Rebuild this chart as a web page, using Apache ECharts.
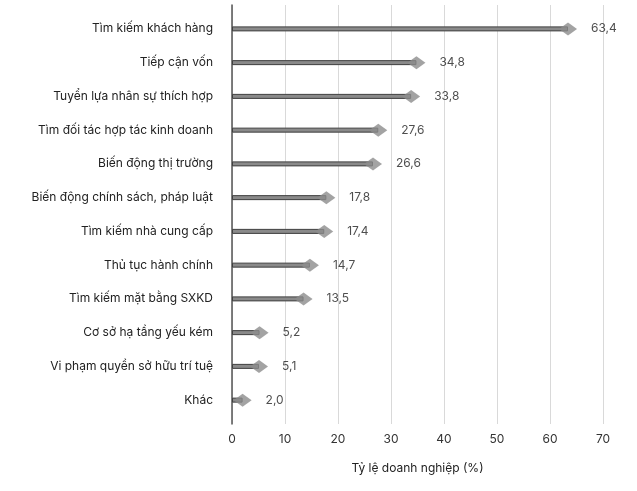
<!DOCTYPE html>
<html><head><meta charset="utf-8">
<script src="https://cdn.jsdelivr.net/npm/echarts@6/dist/echarts.min.js"></script>
<style>html,body{margin:0;padding:0;background:#fff}#c{width:637px;height:491px}</style>
</head><body><div id="c"></div>
<script>
const categories = ["Tìm kiếm khách hàng","Tiếp cận vốn","Tuyển lựa nhân sự thích hợp","Tìm đối tác hợp tác kinh doanh","Biến động thị trường","Biến động chính sách, pháp luật","Tìm kiếm nhà cung cấp","Thủ tục hành chính","Tìm kiếm mặt bằng SXKD","Cơ sở hạ tầng yếu kém","Vi phạm quyền sở hữu trí tuệ","Khác"];
const values = [63.4,34.8,33.8,27.6,26.6,17.8,17.4,14.7,13.5,5.2,5.1,2.0];
const axisName = "Tỷ lệ doanh nghiệp (%)";
const xMin = 0, xMax = 70, xInterval = 10;

const font = "Inter, Roboto, sans-serif";
const chart = echarts.init(document.getElementById('c'));
chart.setOption({
  animation:false,
  textStyle:{fontFamily:font},
  grid:[
    {left:232, right:34, top:12, bottom:74},
    {left:232, right:34, top:5, bottom:67}
  ],
  xAxis:[
    {gridIndex:0, type:'value', min:xMin, max:xMax, interval:xInterval, show:false},
    {gridIndex:1, type:'value', min:xMin, max:xMax, interval:xInterval,
     axisLine:{show:false}, axisTick:{show:false},
     splitLine:{show:true, lineStyle:{color:'#d9d9d9', width:1}},
     axisLabel:{color:'#333', fontSize:12, margin:9, fontFamily:font},
     name:axisName, nameLocation:'middle', nameGap:38,
     nameTextStyle:{color:'#222', fontSize:12, fontFamily:font}}
  ],
  yAxis:[
    {gridIndex:0, type:'category', data:categories, inverse:true,
     axisLine:{show:false}, axisTick:{show:false}, splitLine:{show:false},
     axisLabel:{color:'#222', fontSize:12, margin:19, fontFamily:font}},
    {gridIndex:1, type:'value', min:0, max:1,
     axisLine:{show:true, lineStyle:{color:'#555', width:1.5}},
     axisTick:{show:false}, axisLabel:{show:false}, splitLine:{show:false}}
  ],
  series:[
    {type:'bar', xAxisIndex:0, yAxisIndex:0, data:values, barWidth:5,
     itemStyle:{color:'#8a8a8a', borderColor:'#3f3f3f', borderWidth:1}, z:2},
    {type:'scatter', xAxisIndex:0, yAxisIndex:0, data:values, symbol:'diamond',
     symbolSize:[18,13], itemStyle:{color:'#8c8c8c'}, z:3,
     label:{show:true, position:'right', distance:14, color:'#222', fontSize:12, fontFamily:font,
       formatter:p=>p.value.toFixed(1).replace('.',',')}}
  ]
});
</script></body></html>
